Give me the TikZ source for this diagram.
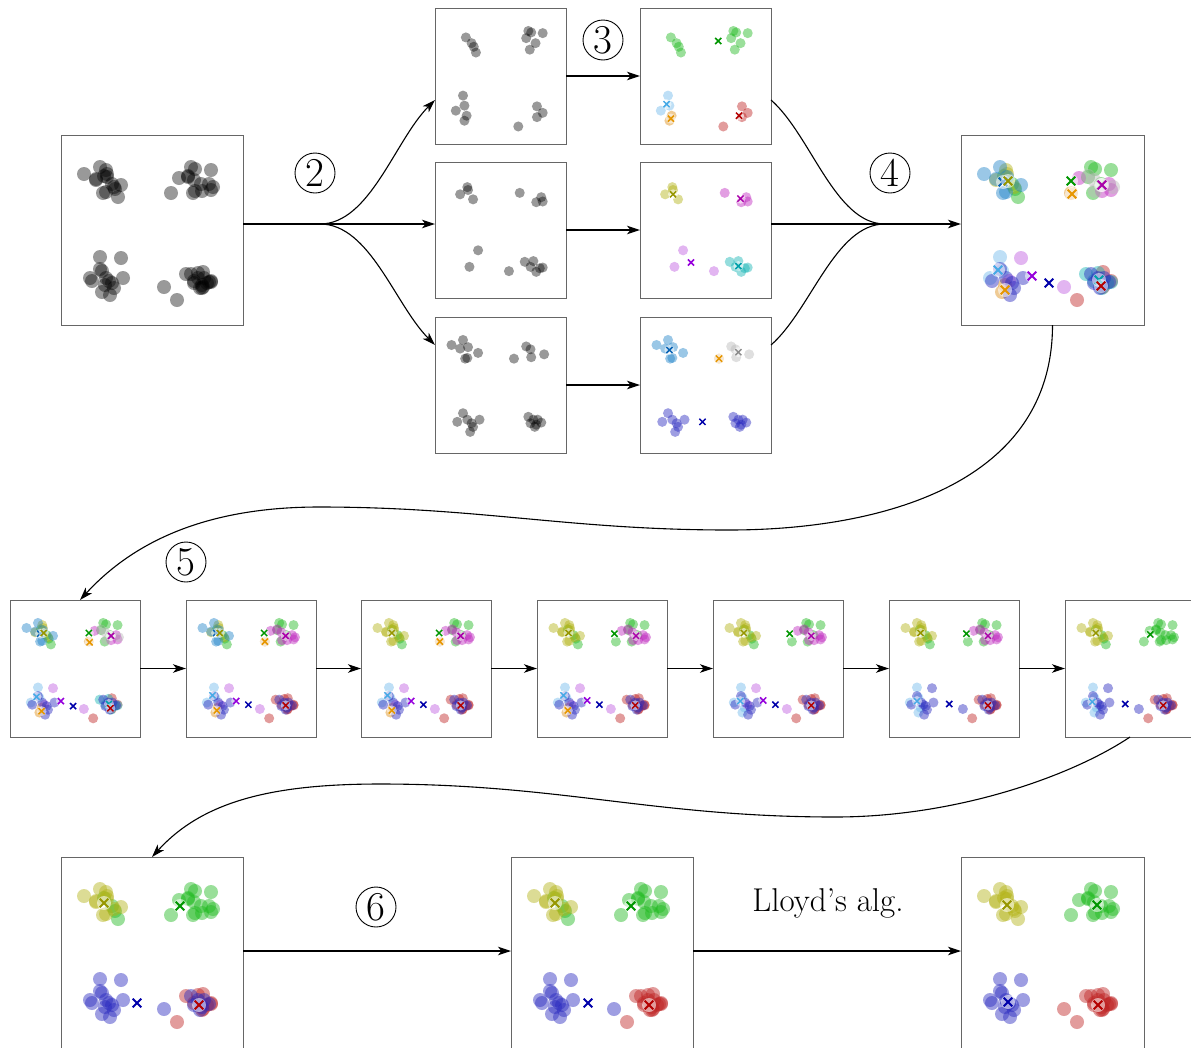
\documentclass[tikz,border=0pt]{standalone}
\usetikzlibrary{arrows.meta,calc}
\definecolor{cG}{RGB}{30,185,30}
\definecolor{cO}{RGB}{178,178,20}
\definecolor{cB}{RGB}{40,40,190}
\definecolor{cR}{RGB}{190,35,35}
\definecolor{cM}{RGB}{190,40,190}
\definecolor{cV}{RGB}{190,90,225}
\definecolor{cC}{RGB}{20,180,180}
\definecolor{cL}{RGB}{110,185,235}
\definecolor{cS}{RGB}{30,130,200}
\definecolor{cOr}{RGB}{220,140,20}
\definecolor{cY}{RGB}{185,185,185}
\definecolor{xG}{RGB}{0,150,0}
\definecolor{xO}{RGB}{150,150,0}
\definecolor{xB}{RGB}{0,0,170}
\definecolor{xR}{RGB}{180,0,0}
\definecolor{xM}{RGB}{170,0,170}
\definecolor{xV}{RGB}{150,0,220}
\definecolor{xC}{RGB}{0,160,170}
\definecolor{xL}{RGB}{70,170,230}
\definecolor{xS}{RGB}{10,100,180}
\definecolor{xOr}{RGB}{230,150,0}
\definecolor{xY}{RGB}{140,140,140}
% point groups (coordinates in the large panel, px, y down)
\newcommand\gAa{43/41,51/49,54/54,57/62}
\newcommand\gAb{130/32,134/34,127/42,140/49,132/58,150/35}
\newcommand\gAcl{39/122,41/136,29/143}
\newcommand\gAco{44/150,41/157}
\newcommand\gAd{142/137,150/146,142/152,116/165}
\newcommand\gBa{35/45,45/35,46/39,53/52}
\newcommand\gBb{118/43,148/49,150/55,141/56}
\newcommand\gBc{60/123,48/146}
\newcommand\gBo{103/152}
\newcommand\gBd{125/139,137/138,133/146,146/148,141/153,150/147}
\newcommand\gCa{23/39,39/32,46/42,35/44,60/50,42/58,45/57}
\newcommand\gCo{110/58}
\newcommand\gCb{127/41,133/45,134/56,152/52}
\newcommand\gCc{39/134,31/146,45/143,51/148,62/143,53/153,49/160}
\newcommand\gCd{130/139,137/143,143/143,133/148,141/150,148/147,139/153}
\newcommand\op{0.45}
\newcommand\xw{1.5pt}
\newcommand\mygrp[2]{\foreach \x/\y in #1 {\fill[#2, fill opacity=\op] (\x,\y) circle (7);}}
\newcommand\grpsA[5]{\mygrp\gAa{#1}\mygrp\gAb{#2}\mygrp\gAcl{#3}\mygrp\gAco{#4}\mygrp\gAd{#5}}
\newcommand\grpsB[5]{\mygrp\gBa{#1}\mygrp\gBb{#2}\mygrp\gBc{#3}\mygrp\gBo{#4}\mygrp\gBd{#5}}
\newcommand\grpsC[5]{\mygrp\gCa{#1}\mygrp\gCo{#2}\mygrp\gCb{#3}\mygrp\gCc{#4}\mygrp\gCd{#5}}
\newcommand\mycen[3]{\fill[white, fill opacity=0.55] (#1,#2) circle (7);
  \draw[#3, line width=\xw] (#1,#2) +(-4.3,-4.3) -- +(4.3,4.3) +(-4.3,4.3) -- +(4.3,-4.3);}
\newcommand\allgray{\grpsA{black}{black}{black}{black}{black}\grpsB{black}{black}{black}{black}{black}\grpsC{black}{black}{black}{black}{black}}
\newcommand\Mcontent{%
  \grpsA{cG}{cG}{cL}{cOr}{cR}\grpsB{cO}{cM}{cV}{cV}{cC}\grpsC{cS}{cOr}{cY}{cB}{cB}
  \mycen{42}{47}{xS}\mycen{47}{46}{xO}\mycen{110}{46}{xG}\mycen{111}{59}{xOr}
  \mycen{140}{50}{xY}\mycen{141}{50}{xM}\mycen{37}{135}{xL}\mycen{44}{155}{xOr}
  \mycen{71}{141}{xV}\mycen{88}{148}{xB}\mycen{138}{145}{xC}\mycen{140}{151}{xR}}
\tikzset{
  frame/.style={draw=black!60, line width=0.8pt, anchor=north west, inner sep=0pt, outer sep=0pt},
  con/.style={line width=1.1pt, black},
  arr/.style={con, -{Stealth[length=13pt,width=8.5pt,inset=3.5pt]}},
  cnum/.style={circle, draw, line width=0.9pt, minimum size=40pt, inner sep=0pt, font=\fontsize{41}{41}\selectfont},
  pan/.style n args={3}{shift={(#1,#2)}, scale=#3}
}
\begin{document}
\begin{tikzpicture}[x=1pt, y=-1pt]
\useasboundingbox (0,0) rectangle (1191,1047);
% frames
\node[frame, minimum width=182pt, minimum height=190pt] (box0) at (61,135) {};
\node[frame, minimum width=131pt, minimum height=136pt] (S1) at (435,8) {};
\node[frame, minimum width=131pt, minimum height=136pt] (S2) at (435,162) {};
\node[frame, minimum width=131pt, minimum height=136pt] (S3) at (435,317) {};
\node[frame, minimum width=131pt, minimum height=136pt] (C1) at (640,8) {};
\node[frame, minimum width=131pt, minimum height=136pt] (C2) at (640,162) {};
\node[frame, minimum width=131pt, minimum height=136pt] (C3) at (640,317) {};
\node[frame, minimum width=183pt, minimum height=190pt] (M) at (961,135) {};
\node[frame, minimum width=130pt, minimum height=137pt] (R1) at (10,600) {};
\node[frame, minimum width=130pt, minimum height=137pt] (R2) at (186,600) {};
\node[frame, minimum width=130pt, minimum height=137pt] (R3) at (361,600) {};
\node[frame, minimum width=130pt, minimum height=137pt] (R4) at (537,600) {};
\node[frame, minimum width=130pt, minimum height=137pt] (R5) at (713,600) {};
\node[frame, minimum width=130pt, minimum height=137pt] (R6) at (889,600) {};
\node[frame, minimum width=130pt, minimum height=137pt] (R7) at (1065,600) {};
\node[frame, minimum width=182pt, minimum height=195pt] (B1) at (61,857) {};
\node[frame, minimum width=182pt, minimum height=195pt] (B2) at (511,857) {};
\node[frame, minimum width=183pt, minimum height=195pt] (B3) at (961,857) {};
% contents
\begin{scope}[pan={61}{135}{1}]\def\op{0.4}\allgray\end{scope}
\begin{scope}[pan={435}{8}{0.718}]\def\op{0.4}\grpsA{black}{black}{black}{black}{black}\end{scope}
\begin{scope}[pan={435}{162}{0.718}]\def\op{0.4}\grpsB{black}{black}{black}{black}{black}\end{scope}
\begin{scope}[pan={435}{317}{0.718}]\def\op{0.4}\grpsC{black}{black}{black}{black}{black}\end{scope}
\begin{scope}[pan={640}{8}{0.718}]
  \grpsA{cG}{cG}{cL}{cOr}{cR}
  \mycen{109}{46}{xG}\mycen{37}{134}{xL}\mycen{43}{154}{xOr}\mycen{138}{150}{xR}
\end{scope}
\begin{scope}[pan={640}{162}{0.718}]
  \grpsB{cO}{cM}{cV}{cV}{cC}
  \mycen{46}{45}{xO}\mycen{140}{51}{xM}\mycen{71}{140}{xV}\mycen{137}{145}{xC}
\end{scope}
\begin{scope}[pan={640}{317}{0.718}]
  \grpsC{cS}{cOr}{cY}{cB}{cB}
  \mycen{41}{46}{xS}\mycen{137}{49}{xY}\mycen{110}{58}{xOr}\mycen{87}{146}{xB}
\end{scope}
\begin{scope}[pan={961}{135}{1}]\def\xw{2pt}\Mcontent\end{scope}
\begin{scope}[pan={10}{600}{0.717}]\Mcontent\end{scope}
\begin{scope}[pan={186}{600}{0.717}]
  \grpsA{cG}{cG}{cL}{cOr}{cR}\grpsB{cO}{cM}{cV}{cV}{cR}\grpsC{cS}{cOr}{cM}{cB}{cB}
  \mycen{42}{46}{xS}\mycen{47}{46}{xO}\mycen{109}{46}{xG}\mycen{110}{58}{xOr}\mycen{139}{50}{xM}
  \mycen{37}{133}{xL}\mycen{70}{141}{xV}\mycen{87}{146}{xB}\mycen{43}{154}{xOr}\mycen{139}{147}{xR}
\end{scope}
\begin{scope}[pan={361}{600}{0.717}]
  \grpsA{cG}{cG}{cL}{cOr}{cR}\grpsB{cO}{cM}{cV}{cV}{cR}\grpsC{cO}{cOr}{cM}{cB}{cB}
  \mycen{43}{46}{xO}\mycen{109}{46}{xG}\mycen{110}{58}{xOr}\mycen{139}{50}{xM}
  \mycen{37}{133}{xL}\mycen{70}{141}{xV}\mycen{87}{146}{xB}\mycen{43}{154}{xOr}\mycen{139}{147}{xR}
\end{scope}
\begin{scope}[pan={537}{600}{0.717}]
  \grpsA{cG}{cG}{cL}{cOr}{cR}\grpsB{cO}{cM}{cV}{cV}{cR}\grpsC{cO}{cG}{cM}{cB}{cB}
  \mycen{44}{46}{xO}\mycen{108}{47}{xG}\mycen{138}{50}{xM}
  \mycen{37}{133}{xL}\mycen{70}{140}{xV}\mycen{87}{146}{xB}\mycen{43}{154}{xOr}\mycen{137}{147}{xR}
\end{scope}
\begin{scope}[pan={713}{600}{0.717}]
  \grpsA{cG}{cG}{cL}{cL}{cR}\grpsB{cO}{cM}{cV}{cV}{cR}\grpsC{cO}{cG}{cM}{cB}{cB}
  \mycen{43}{46}{xO}\mycen{107}{47}{xG}\mycen{137}{50}{xM}
  \mycen{38}{141}{xL}\mycen{70}{140}{xV}\mycen{87}{146}{xB}\mycen{137}{147}{xR}
\end{scope}
\begin{scope}[pan={889}{600}{0.717}]
  \grpsA{cG}{cG}{cL}{cL}{cR}\grpsB{cO}{cM}{cB}{cB}{cR}\grpsC{cO}{cG}{cM}{cB}{cB}
  \mycen{44}{46}{xO}\mycen{108}{47}{xG}\mycen{138}{50}{xM}
  \mycen{39}{141}{xL}\mycen{84}{145}{xB}\mycen{138}{147}{xR}
\end{scope}
\begin{scope}[pan={1065}{600}{0.717}]
  \grpsA{cG}{cG}{cL}{cL}{cR}\grpsB{cO}{cG}{cB}{cB}{cR}\grpsC{cO}{cG}{cG}{cB}{cB}
  \mycen{43}{46}{xO}\mycen{119}{48}{xG}
  \mycen{38}{142}{xL}\mycen{84}{145}{xB}\mycen{137}{147}{xR}
\end{scope}
\begin{scope}[pan={61}{857}{1}]\def\xw{2pt}
  \grpsA{cG}{cG}{cB}{cB}{cR}\grpsB{cO}{cG}{cB}{cB}{cR}\grpsC{cO}{cG}{cG}{cB}{cB}
  \mycen{43}{46}{xO}\mycen{119}{49}{xG}\mycen{76}{146}{xB}\mycen{138}{148}{xR}
\end{scope}
\begin{scope}[pan={511}{857}{1}]\def\xw{2pt}
  \grpsA{cG}{cG}{cB}{cB}{cR}\grpsB{cO}{cG}{cB}{cB}{cR}\grpsC{cO}{cG}{cG}{cB}{cR}
  \mycen{44}{46}{xO}\mycen{120}{49}{xG}\mycen{77}{146}{xB}\mycen{138}{148}{xR}
\end{scope}
\begin{scope}[pan={961}{857}{1}]\def\xw{2pt}
  \grpsA{cO}{cG}{cB}{cB}{cR}\grpsB{cO}{cG}{cB}{cR}{cR}\grpsC{cO}{cG}{cG}{cB}{cR}
  \mycen{46}{48}{xO}\mycen{136}{48}{xG}\mycen{47}{145}{xB}\mycen{137}{148}{xR}
\end{scope}
% connectors
\coordinate (f1) at (320,224);
\coordinate (f2) at (885,224);
\draw[con] (box0.east |- f1) -- (f1);
\draw[arr] (f1) .. controls +(50,0) and +(-40,40) .. ($(S1.west)+(0,24)$);
\draw[arr] (f1) -- (S2.west |- f1);
\draw[arr] (f1) .. controls +(50,0) and +(-40,-40) .. ($(S3.west)+(0,-40)$);
\draw[arr] (S1.east) -- (C1.west);
\draw[arr] (S2.east) -- (C2.west);
\draw[arr] (S3.east) -- (C3.west);
\draw[con] ($(C1.east)+(0,24)$) .. controls +(40,35) and +(-50,0) .. (f2);
\draw[con] (C2.east |- f2) -- (f2);
\draw[con] ($(C3.east)+(0,-40)$) .. controls +(40,-35) and +(-50,0) .. (f2);
\draw[arr] (f2) -- (M.west |- f2);
\coordinate (w1) at (729,530);
\coordinate (w2) at (319,507);
\draw[arr] (M.south) .. controls +(0,160) and +(150,0) .. (w1)
  .. controls +(-160,0) and +(160,0) .. (w2)
  .. controls +(-110,0) and +(55,-60) .. ($(R1.north)+(5,0)$);
\draw[arr] (R1.east) -- (R2.west);
\draw[arr] (R2.east) -- (R3.west);
\draw[arr] (R3.east) -- (R4.west);
\draw[arr] (R4.east) -- (R5.west);
\draw[arr] (R5.east) -- (R6.west);
\draw[arr] (R6.east) -- (R7.west);
\coordinate (w3) at (835,817);
\coordinate (w4) at (380,784);
\draw[arr] (R7.south) .. controls +(-60,40) and +(120,0) .. (w3)
  .. controls +(-180,0) and +(180,0) .. (w4)
  .. controls +(-110,0) and +(50,-55) .. (B1.north);
\draw[arr] (B1.east |- 0,951) -- (B2.west |- 0,951);
\draw[arr] (B2.east |- 0,951) -- (B3.west |- 0,951);
% labels
\node[cnum] (n2) at (315,173) {2};
\node[cnum] (n3) at (603,40) {3};
\node[cnum] (n4) at (890,173) {4};
\node[cnum] (n5) at (186,562) {5};
\node[cnum] (n6) at (376,907) {6};
\node[font=\fontsize{33}{38}\selectfont] (lloyd) at (828,903) {Lloyd's alg.};
\end{tikzpicture}
\end{document}
